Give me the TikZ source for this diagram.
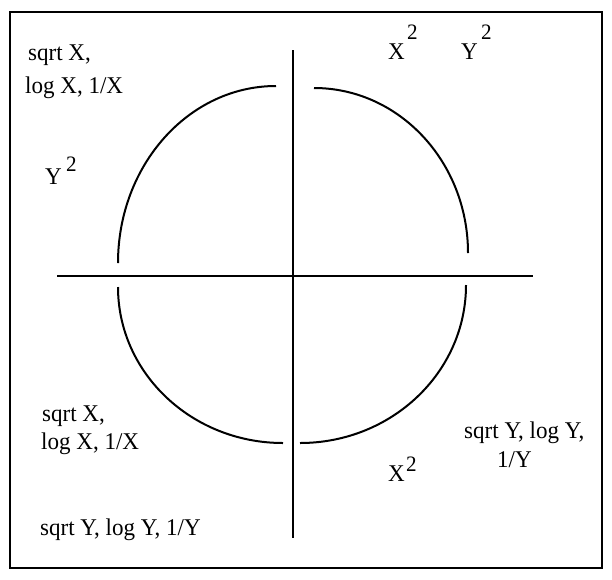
\documentclass[tikz,border=0pt]{standalone}
\usepackage{fontspec}
\setmainfont[FakeStretch=0.96]{Liberation Serif}
\begin{document}
\begin{tikzpicture}[x=1pt,y=-1pt,
  lbl/.style={anchor=base west,inner sep=0pt,font=\fontsize{24pt}{28pt}\selectfont},
  sup/.style={anchor=base west,inner sep=0pt,font=\fontsize{22pt}{26pt}\selectfont},
  ln/.style={line width=2pt,black}]
\useasboundingbox (0,0) rectangle (612,579);
% frame
\draw[ln] (10,12) rectangle (602,568);
% axes
\coordinate (vt) at (292.5,50);
\coordinate (vb) at (292.5,538);
\coordinate (hl) at (57,275.5);
\coordinate (hr) at (533,275.5);
\draw[ln] (vt) -- (vb);
\draw[ln] (hl) -- (hr);
% arcs
\coordinate (tl1) at (276,86);
\coordinate (tl2) at (118,263);
\coordinate (tr1) at (314,88);
\coordinate (tr2) at (468,253);
\coordinate (bl1) at (118,287);
\coordinate (bl2) at (283,443);
\coordinate (br1) at (466,285);
\coordinate (br2) at (300,443);
\draw[ln] (tl1) .. controls (188.7,86) and (118,165.2) .. (tl2);
\draw[ln] (tr1) .. controls (399.1,88) and (468,161.9) .. (tr2);
\draw[ln] (bl1) .. controls (118,373.2) and (191.9,443) .. (bl2);
\draw[ln] (br1) .. controls (466,372.3) and (391.7,443) .. (br2);
% labels top-left
\node[lbl] (a1) at (28,60) {sqrt X,};
\node[lbl] (a2) at (25,93) {log X, 1/X};
\node[lbl] (a3) at (45,184) {Y};
\node[sup] (a3s) at (66,171) {2};
% top-right
\node[lbl] (b1) at (388,59) {X};
\node[sup] (b1s) at (407,39) {2};
\node[lbl] (b2) at (461,59) {Y};
\node[sup] (b2s) at (481,39) {2};
% bottom-left
\node[lbl] (c1) at (42,421) {sqrt X,};
\node[lbl] (c2) at (41,449) {log X, 1/X};
\node[lbl] (c3) at (40,535) {sqrt Y, log Y, 1/Y};
% bottom-right
\node[lbl] (d1) at (464,438) {sqrt Y, log Y,};
\node[lbl] (d2) at (497,467) {1/Y};
\node[lbl] (d3) at (388,481) {X};
\node[sup] (d3s) at (406,471) {2};
\end{tikzpicture}
\end{document}
